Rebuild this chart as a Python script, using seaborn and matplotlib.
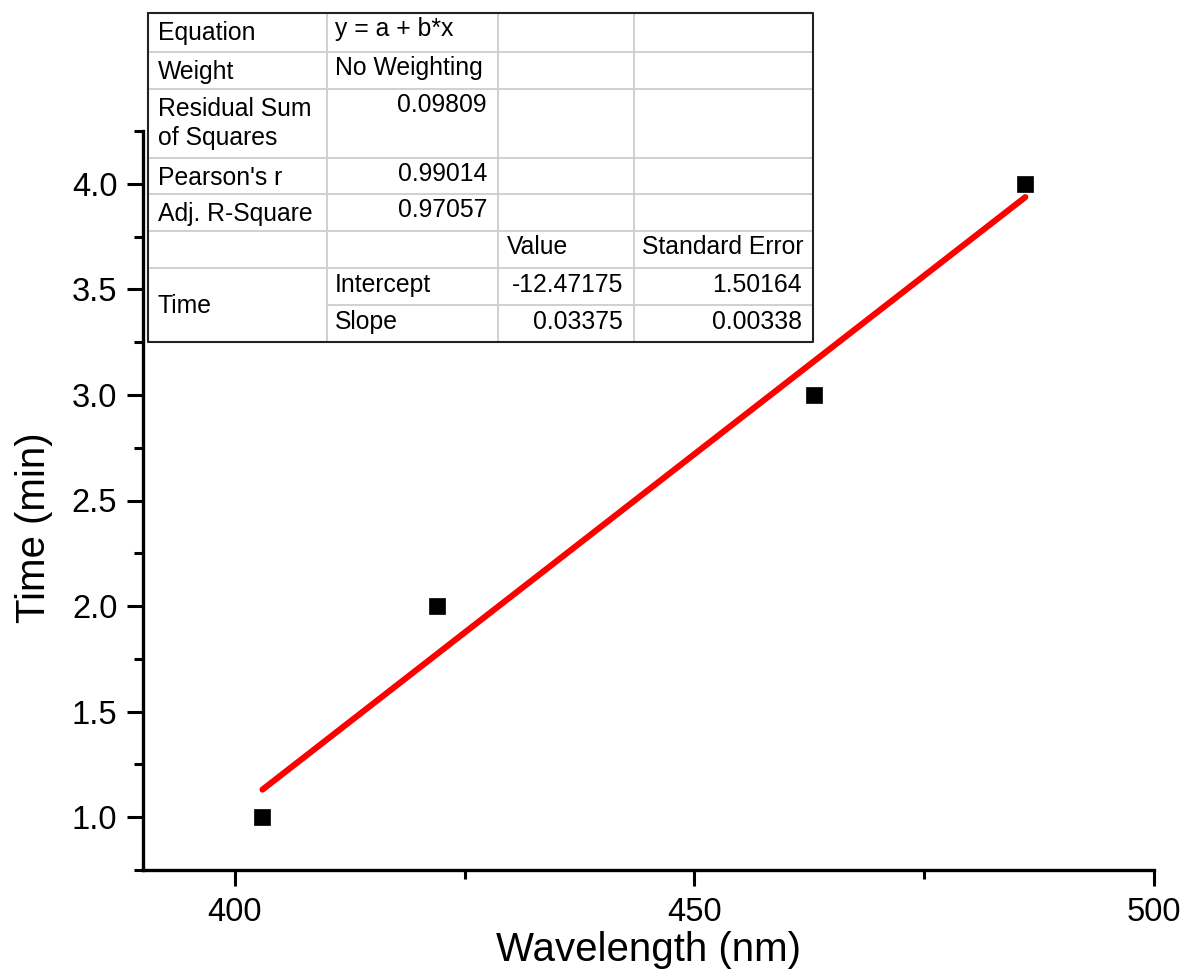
import numpy as np
import pandas as pd
import matplotlib
matplotlib.use("Agg")
import matplotlib.pyplot as plt
from matplotlib.ticker import MultipleLocator, FormatStrFormatter
import seaborn as sns

# ---- data ----
wavelength = [403, 422, 463, 486]
time_min = [1.0, 2.0, 3.0, 4.0]

# fit table contents
table_labels = ["Equation", "Weight", "Residual Sum\nof Squares", "Pearson's r", "Adj. R-Square"]
table_values = ["y = a + b*x", "No Weighting", "0.09809", "0.99014", "0.97057"]
param_names = ["Intercept", "Slope"]
param_values = ["-12.47175", "0.03375"]
param_errors = ["1.50164", "0.00338"]

sns.set_theme(style="ticks")
plt.rcParams['font.family'] = ['Liberation Sans', 'DejaVu Sans']

W, H = 1184, 975
fig = plt.figure(figsize=(W / 100, H / 100), dpi=100)
ax = fig.add_axes([143 / W, 1 - 870 / H, (1154 - 143) / W, (870 - 131) / H])

df = pd.DataFrame({"Wavelength": wavelength, "Time": time_min})
sns.regplot(data=df, x="Wavelength", y="Time", ax=ax, scatter=False, ci=None,
            truncate=True, color="#ff0000",
            line_kws=dict(lw=4.4, solid_capstyle="round", zorder=2))
sns.scatterplot(data=df, x="Wavelength", y="Time", ax=ax, marker="s", s=140,
                color="black", edgecolor="black", linewidth=0.5, zorder=3)

ax.set_xlim(390, 500)
ax.set_ylim(0.75, 4.25)
ax.xaxis.set_major_locator(MultipleLocator(50))
ax.xaxis.set_minor_locator(MultipleLocator(25))
ax.yaxis.set_major_locator(MultipleLocator(0.5))
ax.yaxis.set_minor_locator(MultipleLocator(0.25))
ax.yaxis.set_major_formatter(FormatStrFormatter("%.1f"))

for s in ["top", "right"]:
    ax.spines[s].set_visible(False)
for s in ["left", "bottom"]:
    ax.spines[s].set_linewidth(2.4)
    ax.spines[s].set_color("black")

ax.tick_params(axis="both", which="major", direction="out", length=11.5, width=2.2,
               labelsize=23.5, colors="black", pad=7)
ax.tick_params(axis="both", which="minor", direction="out", length=6.5, width=2.2,
               colors="black")
ax.tick_params(axis="x", which="major", pad=8)

ax.set_xlabel("Wavelength (nm)", fontsize=29, color="black")
ax.set_ylabel("Time (min)", fontsize=29, color="black")
ax.xaxis.set_label_coords(0.5, -0.082)
ax.yaxis.set_label_coords(-0.089, 0.463)

# ---- fit result table (Origin style) ----
tx0, tx1, ty0, ty1 = 148, 813, 13, 342
tab = fig.add_axes([tx0 / W, 1 - ty1 / H, (tx1 - tx0) / W, (ty1 - ty0) / H])
tab.set_xlim(tx0, tx1)
tab.set_ylim(ty1, ty0)
tab.axis("off")
tab.patch.set_visible(True)
tab.set_facecolor("white")
tab.set_zorder(5)

cols = [148, 327, 498, 634, 813]
rows = [13, 52, 89, 158, 194, 231, 268, 305, 342]
grid_c = "#d0d0d0"
for r in rows[1:-1]:
    x_start = cols[1] if r == 305 else cols[0]
    tab.plot([x_start, cols[-1]], [r, r], color=grid_c, lw=1.4, clip_on=False)
for c in cols[1:-1]:
    tab.plot([c, c], [rows[0], rows[-1]], color=grid_c, lw=1.4, clip_on=False)
tab.plot([cols[0], cols[-1], cols[-1], cols[0], cols[0]],
         [rows[0], rows[0], rows[-1], rows[-1], rows[0]], color="#222222", lw=1.5,
         clip_on=False)

fs = 17.8
kw = dict(fontsize=fs, va="baseline", color="black")
for i, (lab, val) in enumerate(zip(table_labels, table_values)):
    top = rows[i]
    for j, line in enumerate(lab.split("\n")):
        tab.text(cols[0] + 10, top + 27 + 29 * j, line, ha="left", **kw)
    if i < 2:
        tab.text(cols[1] + 8, top + 23, val, ha="left", **kw)
    else:
        tab.text(cols[2] - 11, top + 23, val, ha="right", **kw)

tab.text(cols[2] + 9, rows[5] + 23, "Value", ha="left", **kw)
tab.text(cols[3] + 8, rows[5] + 23, "Standard Error", ha="left", **kw)
tab.text(cols[0] + 10, (rows[6] + rows[8]) / 2 + 8, "Time", ha="left", **kw)
for k in range(2):
    top = rows[6 + k]
    tab.text(cols[1] + 8, top + 24, param_names[k], ha="left", **kw)
    tab.text(cols[3] - 11, top + 24, param_values[k], ha="right", **kw)
    tab.text(cols[4] - 11, top + 24, param_errors[k], ha="right", **kw)

fig.savefig("out.png", dpi=100, facecolor="white")
